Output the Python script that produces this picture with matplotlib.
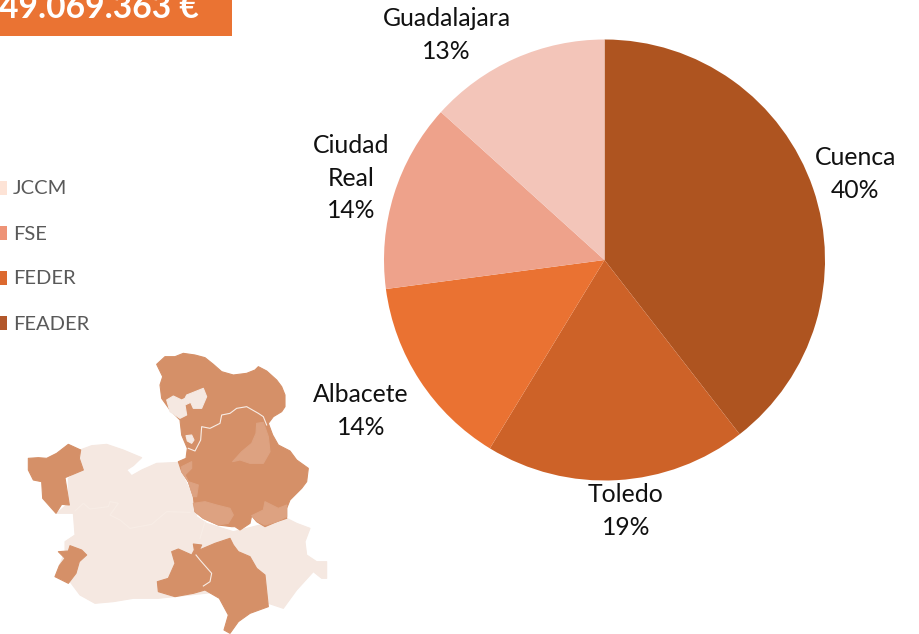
import matplotlib
matplotlib.use("Agg")
import matplotlib.pyplot as plt
from matplotlib.patches import Polygon, Rectangle

W, H = 920, 634

# ---- data ----
provinces = ["Cuenca", "Toledo", "Albacete", "Ciudad\nReal", "Guadalajara"]
shares = [39.5, 19.2, 14.2, 13.8, 13.3]
slice_colors = ["#AE5420", "#CD6228", "#EA7232", "#EEA28B", "#F3C5B9"]
total_label = "49.069.363 €"
legend_names = ["JCCM", "FSE", "FEDER", "FEADER"]
legend_colors = ["#FDE3D6", "#EE9377", "#DC692F", "#B2572A"]

# ---- map outlines (decorative image in the source, 3x crop coordinates) ----
ORIGIN_N = (150, 345)
ORIGIN_W = (20, 435)
ORIGIN_S = (150, 500)
map_north = [(20,58),(45,35),(75,35),(100,25),(135,30),(165,38),(190,58),(215,80),(250,90),(290,85),(315,75),(325,65),(350,78),(380,105),(395,125),(405,150),(405,185),(395,200),(370,215),(355,235),(368,270),(385,300),(420,318),(440,345),(475,370),(470,410),(455,430),(420,465),(410,490),(410,520),(380,530),(345,545),(320,530),(305,512),(300,535),(270,555),(255,545),(245,545),(205,540),(160,520),(135,500),(130,455),(115,410),(95,380),(85,350),(108,340),(112,310),(95,270),(90,225),(60,195),(35,160),(30,120),(38,95)]
map_holes = [[(50,165),(70,153),(95,165),(105,160),(110,150),(135,140),(160,130),(170,155),(155,190),(130,190),(122,172),(105,180),(110,210),(90,220),(60,200)],
             [(108,272),(125,270),(132,285),(125,295),(112,288)]]
map_mid = [[(320,235),(340,232),(355,275),(360,320),(340,355),(300,355),(270,345),(248,350),(275,320),(305,295),(318,265)],
           [(165,470),(200,480),(240,490),(250,510),(235,535),(205,540),(160,520),(135,500),(130,475)],
           [(345,470),(385,490),(410,480),(410,515),(380,530),(345,540),(320,528),(305,512),(340,495)],
           [(95,365),(125,350),(125,370),(105,390),(115,410),(145,420),(140,455),(130,455),(115,410),(95,380)]]
map_north_line = [(115,310),(135,318),(152,285),(155,245),(180,250),(210,235),(215,210),(240,205),(260,190),(290,185),(325,205),(340,215),(350,240)]

map_light_west = [(180,45),(215,32),(260,28),(310,45),(365,68),(340,92),(320,105),(335,122),(365,105),(410,85),(480,82)]
map_light_mid = [(545,400),(580,470),(590,530),(620,550),(700,575),(760,560),(860,535)]
map_light_east = [(410,55),(440,70),(480,85),(465,125),(470,165),(500,185),(530,185),(530,235),(515,235),(490,215),(440,270),(400,325),(355,310),(260,270)]
map_light_south = [(415,490),(340,490),(280,500),(225,505),(180,480),(150,440),(105,425),(135,350),(135,320),(165,300),(160,235),(110,235),(145,205),(145,130),(180,105)]
map_west = [(25,70),(55,68),(80,70),(110,55),(145,28),(182,45),(178,70),(190,105),(135,128),(148,210),(125,208),(108,235),(68,190),(65,140),(40,135),(25,105)]
map_islet = [(150,332),(185,345),(200,360),(178,380),(168,415),(145,445),(105,425),(118,392),(135,370),(115,350),(145,348)]
map_west_line = [(165,228),(190,205),(210,222),(265,215),(270,200),(295,205),(270,240),(300,255),(330,280),(395,268),(440,230),(510,232)]
map_south = [(65,155),(85,147),(125,165),(133,150),(130,132),(155,135),(148,150),(195,130),(240,115),(250,135),(265,155),(300,170),(320,205),(345,225),(355,320),(300,340),(265,365),(240,400),(222,390),(235,345),(208,295),(165,270),(130,280),(75,290),(25,275),(22,245),(55,235),(75,190)]
map_south_line = [(138,165),(150,180),(185,220),(180,245),(160,258)]
map_mid_line = [(165,65),(150,115)]
MAP_LIGHT = "#F5E8E1"
MAP_DARK = "#D59068"
MAP_MID = "#DDA281"

# ---- figure ----
fig = plt.figure(figsize=(W / 100, H / 100), dpi=100, facecolor="white")
bg = fig.add_axes([0, 0, 1, 1])
bg.set_xlim(0, W)
bg.set_ylim(H, 0)
bg.axis("off")


def crop(points, origin):
    return [(origin[0] + x / 3, origin[1] + y / 3) for x, y in points]


def blob(points, colour):
    bg.add_patch(Polygon(points, fc=colour, ec=colour, lw=0.8, joinstyle="round"))


def thread(points):
    bg.plot([p[0] for p in points], [p[1] for p in points], color="#F8EDE6", lw=0.8)


# map
blob(crop(map_light_west, ORIGIN_W) + crop(map_light_mid, (0, 340))
     + crop(map_light_east, ORIGIN_S) + crop(map_light_south, ORIGIN_W), MAP_LIGHT)
blob(crop(map_north, ORIGIN_N), MAP_DARK)
blob(crop(map_west, ORIGIN_W), MAP_DARK)
blob(crop(map_islet, ORIGIN_W), MAP_DARK)
blob(crop(map_south, ORIGIN_S), MAP_DARK)
for outline in map_mid:
    blob(crop(outline, ORIGIN_N), MAP_MID)
for outline in map_holes:
    blob(crop(outline, ORIGIN_N), MAP_LIGHT)
thread(crop(map_north_line, ORIGIN_N))
thread(crop(map_west_line, ORIGIN_W))
thread(crop(map_south_line, ORIGIN_S))
thread(crop(map_mid_line, ORIGIN_S))

# total banner
bg.add_patch(Rectangle((0, 0), 232, 36, fc="#EA7333", ec="none"))
bg.text(-1, 18.5, total_label, color="white", fontsize=24.2, fontweight="bold",
        family="Lato", ha="left", va="baseline")

# legend
legend_y = [188, 233, 278, 323]
for name, col, y in zip(legend_names, legend_colors, legend_y):
    bg.add_patch(Rectangle((0, y - 7), 7, 14, fc=col, ec="none"))
    bg.text(13, y + 1, name, color="#595959", fontsize=14.5, family="Lato",
            ha="left", va="center")

# pie
cx, cy, r = 604.5, 260, 220.5
ax = fig.add_axes([(cx - r) / W, 1 - (cy + r) / H, 2 * r / W, 2 * r / H])
ax.pie(shares, colors=slice_colors, startangle=90, counterclock=False, radius=1,
       wedgeprops={"linewidth": 0})
ax.set_xlim(-1, 1)
ax.set_ylim(-1, 1)

label_xy = [(855.5, 174), (626, 511), (361, 411), (351, 178), (446.5, 35)]
for name, val, (x, y) in zip(provinces, shares, label_xy):
    bg.text(x, y, f"{name}\n{round(val)}%", color="#111111", fontsize=17.8, family="Lato",
            ha="center", va="center", linespacing=1.52, zorder=5)

fig.savefig("out.png", dpi=100)
